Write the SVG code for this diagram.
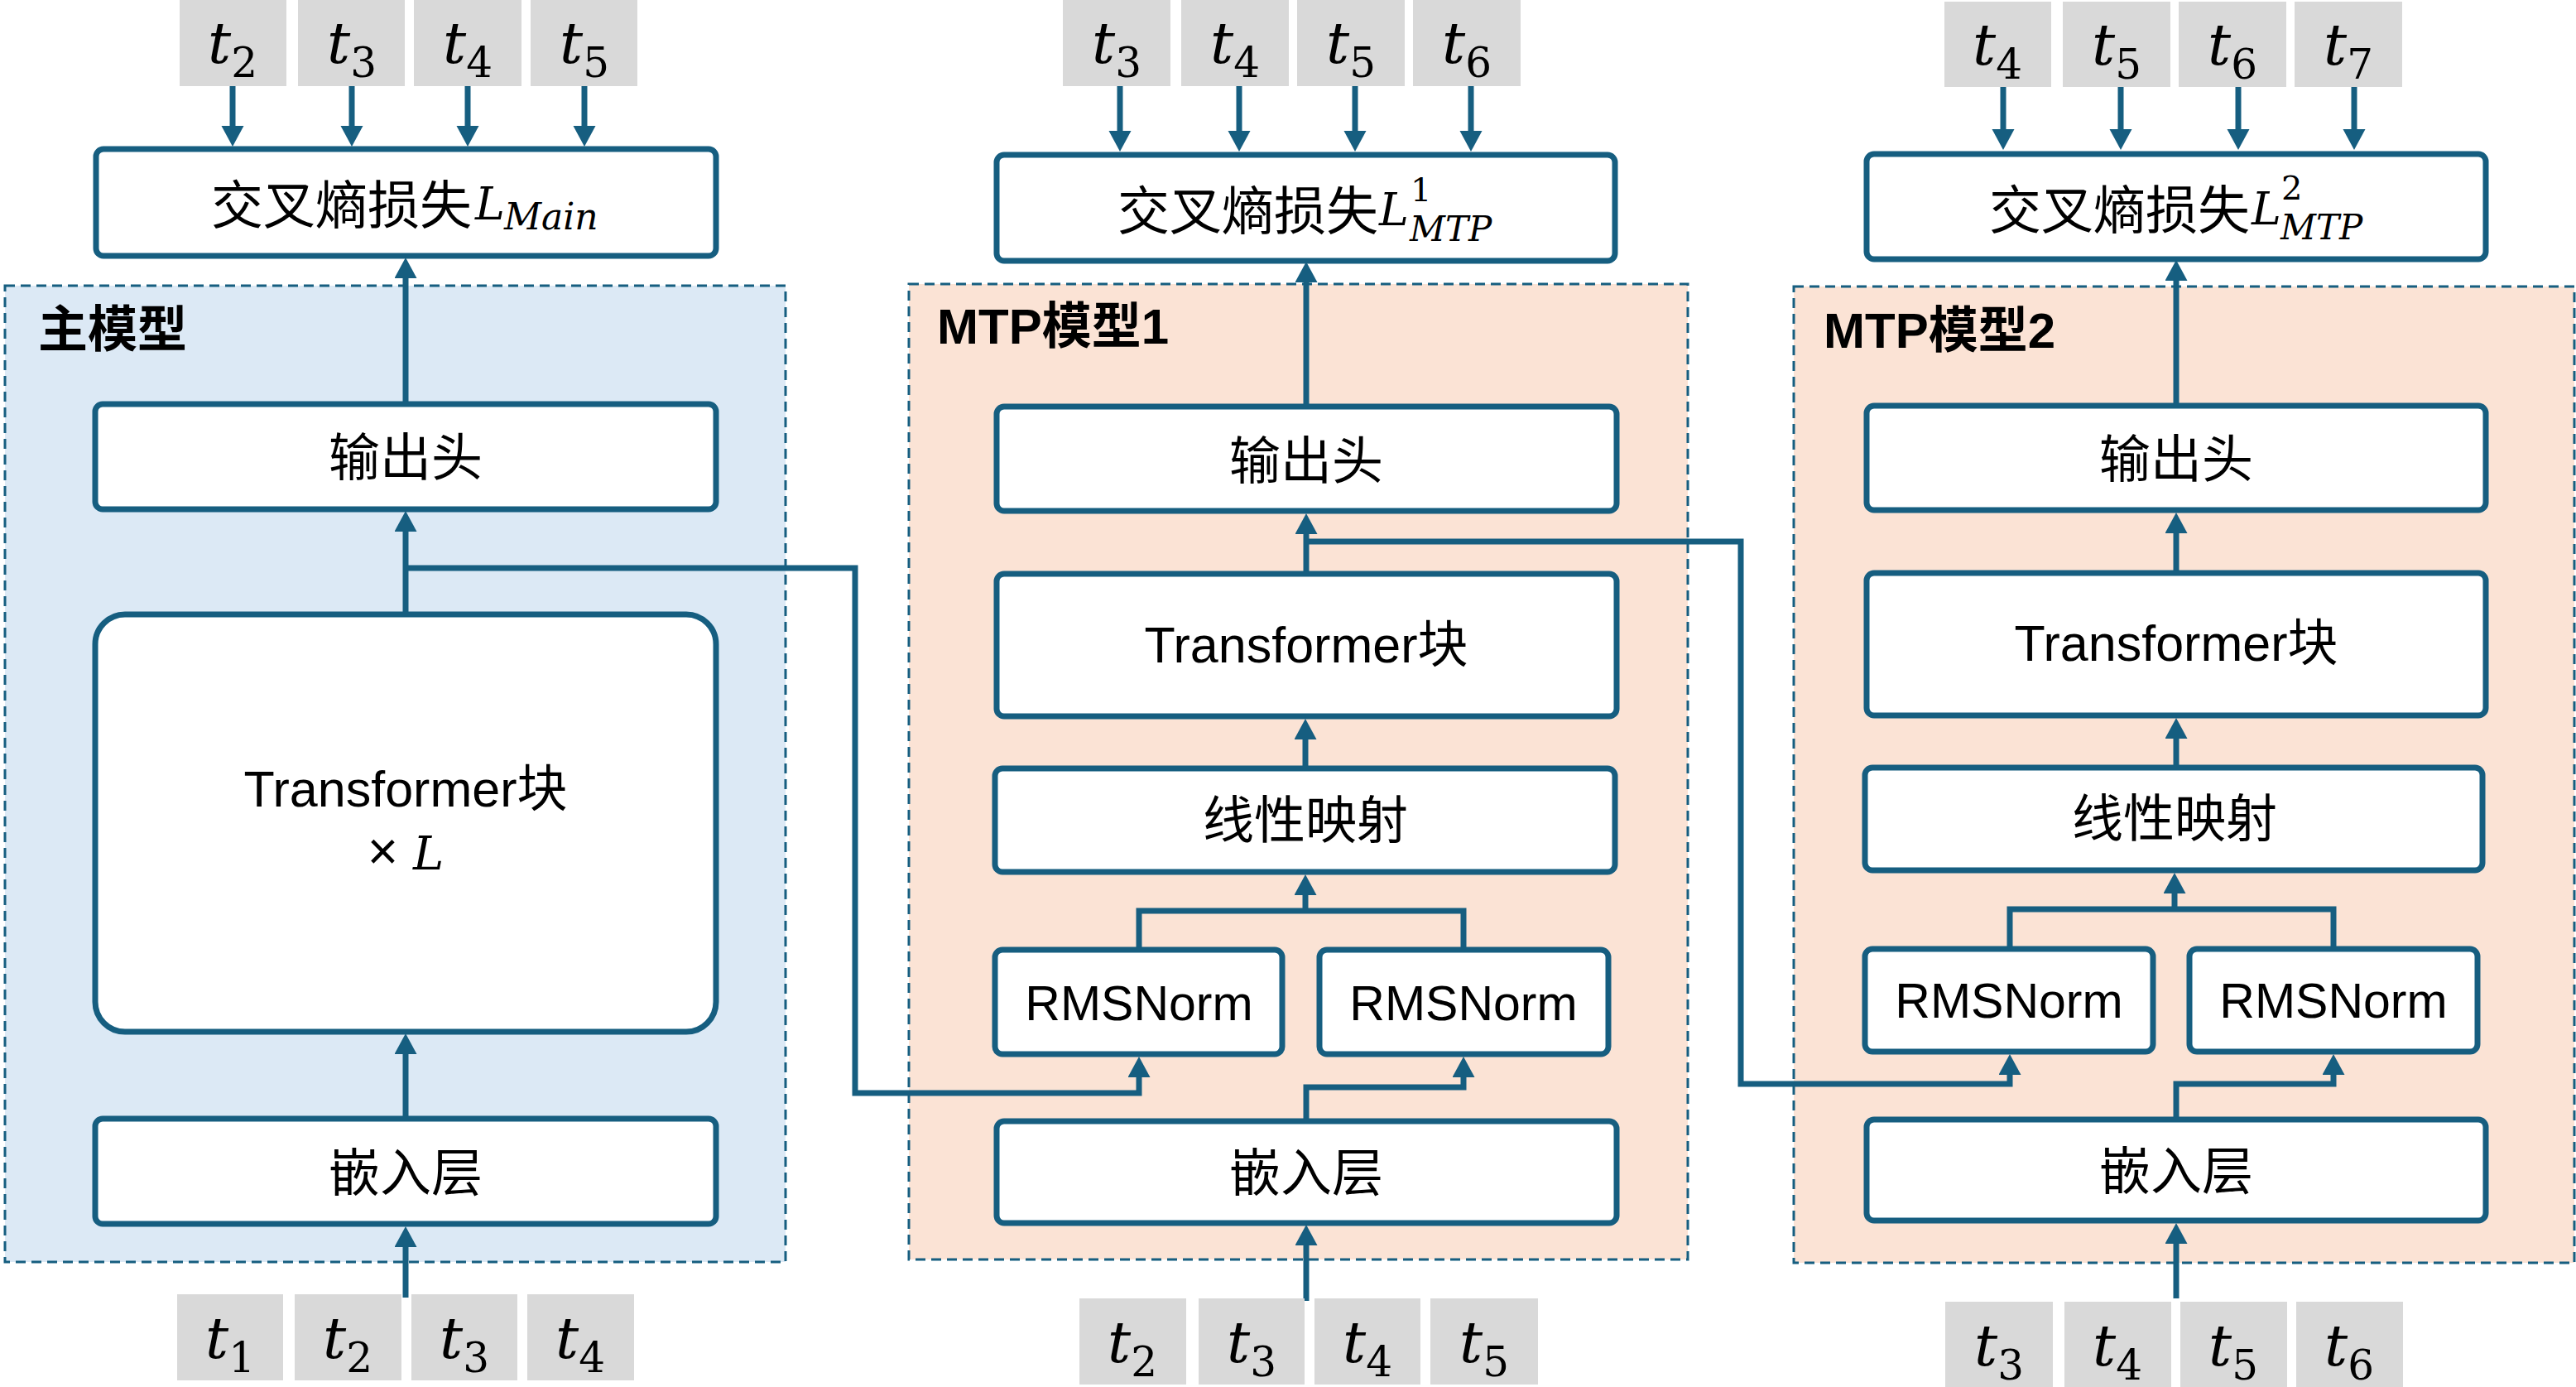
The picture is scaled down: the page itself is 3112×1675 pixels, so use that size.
<svg xmlns="http://www.w3.org/2000/svg" width="3112" height="1675" viewBox="0 0 3112 1675">
<style>
.grp-main{fill:#DCE9F5;stroke:#165E80;stroke-width:3;stroke-dasharray:12 7}
.grp-mtp{fill:#FBE3D5;stroke:#165E80;stroke-width:3;stroke-dasharray:12 7}
.box{fill:#FFFFFF;stroke:#165E80;stroke-width:7}
.tokbox{fill:#D9D9D9}
.conn{fill:none;stroke:#165E80;stroke-width:7}
.cjk{font-family:"Noto Sans CJK SC","Noto Sans",sans-serif;font-size:62px;fill:#000}
.lat{font-family:"Liberation Sans","Noto Sans CJK SC",sans-serif;font-size:61px;fill:#000}
.rms{font-family:"Liberation Sans",sans-serif;font-size:59px;fill:#000}
.title{font-family:"Liberation Sans","Noto Sans CJK SC",sans-serif;font-size:60px;font-weight:bold;fill:#000}
.math{font-family:"DejaVu Serif",serif;font-style:italic;fill:#000}
.tok{font-family:"DejaVu Serif",serif;font-style:italic;font-size:70px;fill:#000}
.sub{font-style:normal;font-size:50px}
</style>
<defs>
<marker id="arr" markerUnits="userSpaceOnUse" markerWidth="26" markerHeight="28" refX="4" refY="13.5" orient="auto">
<path d="M0,0 L25,13.5 L0,27 Z" fill="#165E80"/>
</marker>
</defs>

<g id="group-main"><rect class="grp-main" x="6" y="345" width="943" height="1179"/><text class="title" x="46" y="419">主模型</text></g>
<g id="group-mtp1"><rect class="grp-mtp" x="1098" y="343" width="941" height="1178"/><text class="title" x="1132" y="415">MTP模型1</text></g>
<g id="group-mtp2"><rect class="grp-mtp" x="2167" y="346" width="943" height="1179"/><text class="title" x="2203" y="420">MTP模型2</text></g>

<g id="connectors">
<path class="conn" d="M490,1567 V1502" marker-end="url(#arr)"/>
<path class="conn" d="M490,1348 V1269" marker-end="url(#arr)"/>
<path class="conn" d="M490,739 V638" marker-end="url(#arr)"/>
<path class="conn" d="M490,686 H1033 V1320 H1376 V1297" marker-end="url(#arr)"/>
<path class="conn" d="M490,485 V332" marker-end="url(#arr)"/>
<path class="conn" d="M281,104 V156" marker-end="url(#arr)"/>
<path class="conn" d="M425,104 V156" marker-end="url(#arr)"/>
<path class="conn" d="M565,104 V156" marker-end="url(#arr)"/>
<path class="conn" d="M706,104 V156" marker-end="url(#arr)"/>
<path class="conn" d="M1578,1571 V1500" marker-end="url(#arr)"/>
<path class="conn" d="M1578,1351 V1313 H1768 V1297" marker-end="url(#arr)"/>
<path class="conn" d="M1376,1144 V1100 H1768 V1144"/>
<path class="conn" d="M1577,1100 V1077" marker-end="url(#arr)"/>
<path class="conn" d="M1577,925 V889" marker-end="url(#arr)"/>
<path class="conn" d="M1578,690 V641" marker-end="url(#arr)"/>
<path class="conn" d="M1578,654 H2103 V1309 H2428 V1294" marker-end="url(#arr)"/>
<path class="conn" d="M1578,488 V337" marker-end="url(#arr)"/>
<path class="conn" d="M1353,104 V162" marker-end="url(#arr)"/>
<path class="conn" d="M1497,104 V162" marker-end="url(#arr)"/>
<path class="conn" d="M1637,104 V162" marker-end="url(#arr)"/>
<path class="conn" d="M1777,104 V162" marker-end="url(#arr)"/>
<path class="conn" d="M2629,1568 V1498" marker-end="url(#arr)"/>
<path class="conn" d="M2629,1349 V1309 H2819 V1294" marker-end="url(#arr)"/>
<path class="conn" d="M2428,1143 V1098 H2819 V1143"/>
<path class="conn" d="M2627,1098 V1075" marker-end="url(#arr)"/>
<path class="conn" d="M2629,924 V888" marker-end="url(#arr)"/>
<path class="conn" d="M2629,689 V640" marker-end="url(#arr)"/>
<path class="conn" d="M2629,487 V335" marker-end="url(#arr)"/>
<path class="conn" d="M2420,105 V160" marker-end="url(#arr)"/>
<path class="conn" d="M2562,105 V160" marker-end="url(#arr)"/>
<path class="conn" d="M2704,105 V160" marker-end="url(#arr)"/>
<path class="conn" d="M2844,105 V160" marker-end="url(#arr)"/>
</g>

<g id="main-loss"><rect class="box" x="116" y="180" width="749" height="129" rx="9"/>
<text class="cjk" x="255" y="270" style="font-size:63px">交叉熵损失</text>
<text class="math" x="574" y="265" style="font-size:54px">L</text>
<text class="math" x="609" y="277" style="font-size:44px">Main</text></g>
<g id="main-head"><rect class="box" x="115" y="488" width="750" height="127" rx="9"/><text class="cjk" x="490" y="575" text-anchor="middle">输出头</text></g>
<g id="main-transformer"><rect class="box" x="115" y="742" width="750" height="504" rx="36"/>
<text class="lat" x="490" y="974" text-anchor="middle">Transformer块</text>
<text x="490" y="1050" text-anchor="middle"><tspan class="lat" style="font-size:64px">× </tspan><tspan class="math" style="font-size:56px">L</tspan></text></g>
<g id="main-embed"><rect class="box" x="115" y="1351" width="750" height="127" rx="9"/><text class="cjk" x="490" y="1439" text-anchor="middle">嵌入层</text></g>

<g id="mtp1-loss"><rect class="box" x="1204" y="187" width="747" height="128" rx="9"/>
<text class="cjk" x="1350" y="277" style="font-size:63px">交叉熵损失</text>
<text class="math" x="1666" y="272" style="font-size:54px">L</text>
<text class="math" x="1704" y="243" style="font-size:40px;font-style:normal">1</text>
<text class="math" x="1703" y="291" style="font-size:42px">MTP</text></g>
<g id="mtp1-head"><rect class="box" x="1204" y="491" width="749" height="126" rx="9"/><text class="cjk" x="1578" y="579" text-anchor="middle">输出头</text></g>
<g id="mtp1-transformer"><rect class="box" x="1204" y="693" width="749" height="172" rx="9"/><text class="lat" x="1578" y="800" text-anchor="middle">Transformer块</text></g>
<g id="mtp1-linear"><rect class="box" x="1202" y="928" width="749" height="125" rx="9"/><text class="cjk" x="1577" y="1013" text-anchor="middle">线性映射</text></g>
<g id="mtp1-rms1"><rect class="box" x="1202" y="1147" width="347" height="126" rx="9"/><text class="rms" x="1376" y="1232" text-anchor="middle">RMSNorm</text></g>
<g id="mtp1-rms2"><rect class="box" x="1594" y="1147" width="349" height="126" rx="9"/><text class="rms" x="1768" y="1232" text-anchor="middle">RMSNorm</text></g>
<g id="mtp1-embed"><rect class="box" x="1204" y="1354" width="749" height="123" rx="9"/><text class="cjk" x="1578" y="1439" text-anchor="middle">嵌入层</text></g>

<g id="mtp2-loss"><rect class="box" x="2255" y="186" width="748" height="127" rx="9"/>
<text class="cjk" x="2403" y="276" style="font-size:63px">交叉熵损失</text>
<text class="math" x="2720" y="271" style="font-size:54px">L</text>
<text class="math" x="2756" y="241" style="font-size:40px;font-style:normal">2</text>
<text class="math" x="2755" y="289" style="font-size:42px">MTP</text></g>
<g id="mtp2-head"><rect class="box" x="2255" y="490" width="748" height="126" rx="9"/><text class="cjk" x="2629" y="577" text-anchor="middle">输出头</text></g>
<g id="mtp2-transformer"><rect class="box" x="2255" y="692" width="748" height="172" rx="9"/><text class="lat" x="2629" y="798" text-anchor="middle">Transformer块</text></g>
<g id="mtp2-linear"><rect class="box" x="2253" y="927" width="746" height="124" rx="9"/><text class="cjk" x="2627" y="1011" text-anchor="middle">线性映射</text></g>
<g id="mtp2-rms1"><rect class="box" x="2253" y="1146" width="348" height="124" rx="9"/><text class="rms" x="2427" y="1229" text-anchor="middle">RMSNorm</text></g>
<g id="mtp2-rms2"><rect class="box" x="2645" y="1146" width="348" height="124" rx="9"/><text class="rms" x="2819" y="1229" text-anchor="middle">RMSNorm</text></g>
<g id="mtp2-embed"><rect class="box" x="2255" y="1352" width="748" height="122" rx="9"/><text class="cjk" x="2629" y="1437" text-anchor="middle">嵌入层</text></g>

<g id="main-out-t2"><rect class="tokbox" x="217" y="0" width="129" height="104"/><text class="tok" x="281" y="76" text-anchor="middle">t<tspan class="sub" dy="17">2</tspan></text></g>
<g id="main-out-t3"><rect class="tokbox" x="360" y="0" width="129" height="104"/><text class="tok" x="425" y="76" text-anchor="middle">t<tspan class="sub" dy="17">3</tspan></text></g>
<g id="main-out-t4"><rect class="tokbox" x="500" y="0" width="130" height="104"/><text class="tok" x="565" y="76" text-anchor="middle">t<tspan class="sub" dy="17">4</tspan></text></g>
<g id="main-out-t5"><rect class="tokbox" x="641" y="0" width="129" height="104"/><text class="tok" x="706" y="76" text-anchor="middle">t<tspan class="sub" dy="17">5</tspan></text></g>
<g id="main-in-t1"><rect class="tokbox" x="214" y="1563" width="128" height="104"/><text class="tok" x="278" y="1640" text-anchor="middle">t<tspan class="sub" dy="17">1</tspan></text></g>
<g id="main-in-t2"><rect class="tokbox" x="356" y="1563" width="129" height="104"/><text class="tok" x="420" y="1640" text-anchor="middle">t<tspan class="sub" dy="17">2</tspan></text></g>
<g id="main-in-t3"><rect class="tokbox" x="497" y="1563" width="128" height="104"/><text class="tok" x="561" y="1640" text-anchor="middle">t<tspan class="sub" dy="17">3</tspan></text></g>
<g id="main-in-t4"><rect class="tokbox" x="637" y="1563" width="129" height="104"/><text class="tok" x="701" y="1640" text-anchor="middle">t<tspan class="sub" dy="17">4</tspan></text></g>

<g id="mtp1-out-t3"><rect class="tokbox" x="1284" y="0" width="130" height="104"/><text class="tok" x="1349" y="76" text-anchor="middle">t<tspan class="sub" dy="17">3</tspan></text></g>
<g id="mtp1-out-t4"><rect class="tokbox" x="1427" y="0" width="130" height="104"/><text class="tok" x="1492" y="76" text-anchor="middle">t<tspan class="sub" dy="17">4</tspan></text></g>
<g id="mtp1-out-t5"><rect class="tokbox" x="1567" y="0" width="130" height="104"/><text class="tok" x="1632" y="76" text-anchor="middle">t<tspan class="sub" dy="17">5</tspan></text></g>
<g id="mtp1-out-t6"><rect class="tokbox" x="1707" y="0" width="130" height="104"/><text class="tok" x="1772" y="76" text-anchor="middle">t<tspan class="sub" dy="17">6</tspan></text></g>
<g id="mtp1-in-t2"><rect class="tokbox" x="1304" y="1568" width="129" height="104"/><text class="tok" x="1368" y="1645" text-anchor="middle">t<tspan class="sub" dy="17">2</tspan></text></g>
<g id="mtp1-in-t3"><rect class="tokbox" x="1448" y="1568" width="128" height="104"/><text class="tok" x="1512" y="1645" text-anchor="middle">t<tspan class="sub" dy="17">3</tspan></text></g>
<g id="mtp1-in-t4"><rect class="tokbox" x="1588" y="1568" width="128" height="104"/><text class="tok" x="1652" y="1645" text-anchor="middle">t<tspan class="sub" dy="17">4</tspan></text></g>
<g id="mtp1-in-t5"><rect class="tokbox" x="1728" y="1568" width="130" height="104"/><text class="tok" x="1793" y="1645" text-anchor="middle">t<tspan class="sub" dy="17">5</tspan></text></g>

<g id="mtp2-out-t4"><rect class="tokbox" x="2349" y="2" width="129" height="103"/><text class="tok" x="2413" y="78" text-anchor="middle">t<tspan class="sub" dy="17">4</tspan></text></g>
<g id="mtp2-out-t5"><rect class="tokbox" x="2492" y="2" width="130" height="103"/><text class="tok" x="2557" y="78" text-anchor="middle">t<tspan class="sub" dy="17">5</tspan></text></g>
<g id="mtp2-out-t6"><rect class="tokbox" x="2632" y="2" width="130" height="103"/><text class="tok" x="2697" y="78" text-anchor="middle">t<tspan class="sub" dy="17">6</tspan></text></g>
<g id="mtp2-out-t7"><rect class="tokbox" x="2772" y="2" width="130" height="103"/><text class="tok" x="2837" y="78" text-anchor="middle">t<tspan class="sub" dy="17">7</tspan></text></g>
<g id="mtp2-in-t3"><rect class="tokbox" x="2350" y="1572" width="130" height="103"/><text class="tok" x="2415" y="1649" text-anchor="middle">t<tspan class="sub" dy="17">3</tspan></text></g>
<g id="mtp2-in-t4"><rect class="tokbox" x="2494" y="1572" width="129" height="103"/><text class="tok" x="2558" y="1649" text-anchor="middle">t<tspan class="sub" dy="17">4</tspan></text></g>
<g id="mtp2-in-t5"><rect class="tokbox" x="2634" y="1572" width="129" height="103"/><text class="tok" x="2698" y="1649" text-anchor="middle">t<tspan class="sub" dy="17">5</tspan></text></g>
<g id="mtp2-in-t6"><rect class="tokbox" x="2774" y="1572" width="129" height="103"/><text class="tok" x="2838" y="1649" text-anchor="middle">t<tspan class="sub" dy="17">6</tspan></text></g>
</svg>
